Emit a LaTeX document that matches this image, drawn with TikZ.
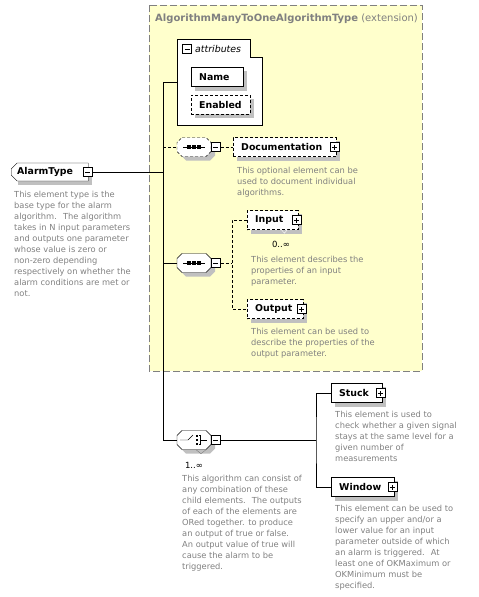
\documentclass[tikz,border=0pt]{standalone}
\usepackage{fontspec}
\setmainfont{DejaVu Sans}
\usetikzlibrary{shapes.misc}
\pgfdeclarelayer{back}
\pgfdeclarelayer{shadow}
\pgfsetlayers{back,shadow,main}
\definecolor{extfill}{RGB}{255,255,204}
\definecolor{extline}{RGB}{128,128,128}
\definecolor{desccol}{RGB}{128,128,128}
\definecolor{shadowgray}{RGB}{192,192,192}
\tikzset{
  boxshadow/.style={append after command={\pgfextra{\begin{pgfonlayer}{shadow}
    \fill[shadowgray] ([xshift=4pt,yshift=-4pt]\tikzlastnode.south east)
      rectangle ([xshift=4pt,yshift=-4pt]\tikzlastnode.north west);
    \end{pgfonlayer}}}},
  compshadow/.style={append after command={\pgfextra{\begin{pgfonlayer}{shadow}
    \fill[shadowgray,shift={(\tikzlastnode.center)}] (-8,-5.5) -- (16,-5.5) -- (21,-0.5) -- (21,8.5)
      -- (16,13.5) -- (-8,13.5) -- (-13,8.5) -- (-13,-0.5) -- cycle;
    \end{pgfonlayer}}}},
  elem/.style={draw,fill=white,boxshadow,anchor=west,text width=#1,align=left,
    inner xsep=8pt,inner ysep=0pt,minimum height=19pt,
    font=\fontsize{9.4}{11}\selectfont\bfseries},
  alarmbox/.style={elem=65pt,chamfered rectangle,chamfered rectangle corners={north west,south west},
    chamfered rectangle sep=3pt,inner xsep=3pt,minimum height=18pt},
  optional/.style={dash pattern=on 3pt off 2pt},
  compositor/.style={inner sep=0pt,minimum width=34pt,minimum height=19pt,compshadow,
    append after command={\pgfextra{
    \draw[fill=white,#1,shift={(\tikzlastnode.center)}] (-12,-9.5) -- (12,-9.5) -- (17,-4.5) -- (17,4.5)
      -- (12,9.5) -- (-12,9.5) -- (-17,4.5) -- (-17,-4.5) -- cycle;}}},
  compositor/.default=solid,
  togglebox/.style={draw,fill=white,solid,minimum size=9pt,inner sep=0pt},
  minus/.style={togglebox,path picture={
    \draw ([xshift=2pt]path picture bounding box.west) -- ([xshift=-2pt]path picture bounding box.east);}},
  plus/.style={togglebox,path picture={
    \draw ([xshift=2pt]path picture bounding box.west) -- ([xshift=-2pt]path picture bounding box.east);
    \draw ([yshift=2pt]path picture bounding box.south) -- ([yshift=-2pt]path picture bounding box.north);}},
  desc/.style={anchor=north west,align=left,inner sep=0pt,text=desccol,
    font=\fontsize{8.3}{11.1}\selectfont},
  multi/.style={inner sep=0pt,font=\fontsize{8.5}{10}\selectfont}
}
\begin{document}
\begin{tikzpicture}[x=1pt,y=-1pt]
\useasboundingbox (0,0) rectangle (479,597);
% extension
\begin{pgfonlayer}{back}
\draw[extline,fill=extfill,dash pattern=on 7pt off 3pt] (149,5) rectangle (422,371);
% attributes
\draw[fill=white] (177,39) -- (250,39) -- (250,57) -- (262,57) -- (262,125) -- (177,125) -- cycle;
\end{pgfonlayer}
\node[anchor=west,inner sep=0pt,text=extline,font=\fontsize{10}{12}\selectfont] (exttitle) at (155,19)
  {\textbf{AlgorithmManyToOneAlgorithmType} (extension)};
\coordinate (attrin) at (177,82);
\node[minus] (attrminus) at (187,49) {};
\node[anchor=west,inner sep=0pt,font=\fontsize{9.4}{11}\selectfont\itshape] (attrlabel) at (195,48.5) {attributes};
\node[elem=36pt] (name) at (191,77) {Name};
\node[elem=43pt,optional] (enabled) at (191,104.5) {Enabled};
% AlarmType
\node[alarmbox] (alarm) at (11,172) {AlarmType};
\node[minus] (alarmminus) at ([xshift=-1pt]alarm.east) {};
\node[desc] (alarmdesc) at (14,190.5) {This element type is the\\base type for the alarm\\
  algorithm.~ The algorithm\\takes in N input parameters\\and outputs one parameter\\
  whose value is zero or\\non-zero depending\\respectively on whether the\\
  alarm conditions are met or\\not.};
% trunk
\coordinate (trunktop) at (163,82);
\coordinate (trunkbot) at (163,440);
\draw (alarmminus.east) -- (alarmminus.east -| trunktop);
\draw (attrin) -- (trunktop) -- (trunkbot);
% sequence 1
\node[compositor=optional] (seqa) at (194,147) {};
\draw ([xshift=-11pt]seqa.center) -- ([xshift=11pt]seqa.center);
\foreach \dx in {-5,0,5} \fill ([xshift=\dx pt]seqa.center) +(-1.6,-1.6) rectangle +(1.6,1.6);
\node[minus,anchor=west] (seqaminus) at (seqa.east) {};
\draw[optional] (seqa.west -| trunktop) -- (seqa.west);
\node[elem=87pt,optional] (doc) at (233,147) {Documentation};
\node[plus] (docplus) at ([xshift=-2pt]doc.east) {};
\draw[optional] (seqaminus.east) -- (doc.west);
\node[desc] (docdesc) at (237,166.5) {This optional element can be\\used to document individual\\algorithms.};
% sequence 2
\node[compositor] (seqb) at (194,263) {};
\draw ([xshift=-11pt]seqb.center) -- ([xshift=11pt]seqb.center);
\foreach \dx in {-5,0,5} \fill ([xshift=\dx pt]seqb.center) +(-1.6,-1.6) rectangle +(1.6,1.6);
\node[minus,anchor=west] (seqbminus) at (seqb.east) {};
\draw (seqb.west -| trunktop) -- (seqb.west);
\coordinate (seqbfork) at (232,263);
\node[elem=35pt,optional] (input) at (247,220) {Input};
\node[plus] (inputplus) at ([xshift=-2pt]input.east) {};
\draw[white] ([xshift=-17pt]input.south east) -- ++(3,3.5) -- ++(3,-3.5);
\node[multi] (inputmulti) at (281,244) {0..∞};
\node[desc] (inputdesc) at (251,255.5) {This element describes the\\properties of an input\\parameter.};
\node[elem=40pt,optional] (output) at (247,309) {Output};
\node[plus] (outputplus) at ([xshift=-2pt]output.east) {};
\node[desc] (outputdesc) at (251,327.5) {This element can be used to\\describe the properties of the\\output parameter.};
\draw[optional] (seqbminus.east) -- (seqbfork);
\draw[optional] (input.west) -| (seqbfork) |- (output.west);
% choice
\node[compositor] (choice) at (194,440) {};
\draw ([xshift=-14pt]choice.center) -- ([xshift=-6pt]choice.center) -- ([xshift=-1pt,yshift=5pt]choice.center);
\foreach \dy in {-4,0,4} \fill ([xshift=3pt,yshift=\dy pt]choice.center) +(-1.2,-1.2) rectangle +(1.2,1.2);
\draw ([xshift=5pt,yshift=4.5pt]choice.center) -- ([xshift=6.5pt,yshift=4.5pt]choice.center)
  -- ([xshift=6.5pt,yshift=-4.5pt]choice.center) -- ([xshift=5pt,yshift=-4.5pt]choice.center);
\draw ([xshift=6.5pt]choice.center) -- ([xshift=13pt]choice.center);
\draw[gray] ([xshift=2pt]choice.south) -- ++(5,4) -- ++(5,-4);
\node[minus,anchor=west] (choiceminus) at (choice.east) {};
\draw (trunkbot) -- (choice.west);
\node[multi] (choicemulti) at (194,465) {1..∞};
\node[desc] (choicedesc) at (182,474.5) {This algorithm can consist of\\any combination of these\\
  child elements.~ The outputs\\of each of the elements are\\ORed together. to produce\\
  an output of true or false.\\An output value of true will\\cause the alarm to be\\triggered.};
\coordinate (choicefork) at (316,440);
\node[elem=35pt] (stuck) at (331,393) {Stuck};
\node[plus] (stuckplus) at ([xshift=-2pt]stuck.east) {};
\node[desc] (stuckdesc) at (335,410.5) {This element is used to\\check whether a given signal\\
  stays at the same level for a\\given number of\\measurements};
\node[elem=47pt] (window) at (331,487) {Window};
\node[plus] (windowplus) at ([xshift=-2pt]window.east) {};
\node[desc] (windowdesc) at (335,504.5) {This element can be used to\\specify an upper and/or a\\
  lower value for an input\\parameter outside of which\\an alarm is triggered.~ At\\
  least one of OKMaximum or\\OKMinimum must be\\specified.};
\draw (choiceminus.east) -- (choicefork);
\draw (stuck.west) -| (choicefork) |- (window.west);
\end{tikzpicture}
\end{document}
